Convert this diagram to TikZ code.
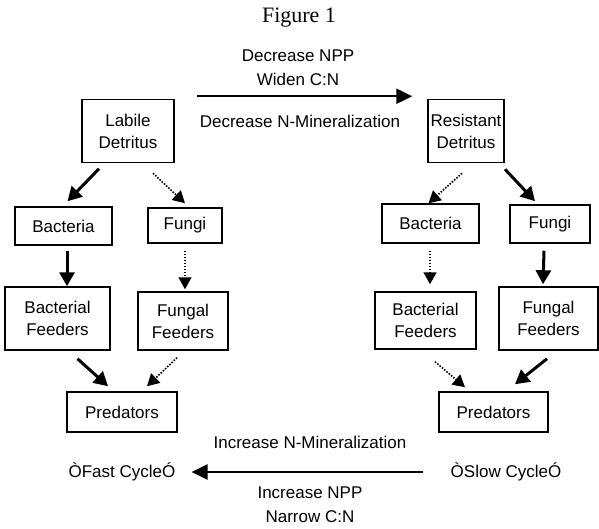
\documentclass[tikz,border=0pt]{standalone}
\usepackage{fontspec}
\setmainfont{Liberation Sans}
\newfontfamily\titlefont{Liberation Serif}
\usetikzlibrary{arrows.meta}

\begin{document}
\begin{tikzpicture}[x=1pt, y=-1pt,
    box/.style={rectangle, draw, line width=1.5pt, align=center, inner sep=0pt, font=\fontsize{17}{22}\selectfont},
    note/.style={align=center, inner sep=0pt, font=\fontsize{17}{24}\selectfont},
    strong/.style={line width=3pt, -{Triangle[length=14pt,width=15pt]}},
    weak/.style={line width=1.6pt, dash pattern=on 1.5pt off 1.5pt, -{Triangle[length=12pt,width=13pt]}},
    flow/.style={line width=2.5pt, -{Triangle[length=16pt,width=15pt]}}]
\useasboundingbox (0,0) rectangle (599,529);
\node (title) [font=\titlefont\fontsize{22}{24}\selectfont] at (299,18) {Figure 1};
\node (labile) [box, minimum width=92pt, minimum height=63pt] at (128,131) {Labile\\Detritus};
\node (resist) [box, minimum width=76pt, minimum height=63pt] at (466,131) {Resistant\\Detritus};
\node (bactL) [box, minimum width=97pt, minimum height=38pt] at (63.5,226) {Bacteria};
\node (fungL) [box, minimum width=74pt, minimum height=35pt] at (185,225.5) {Fungi};
\node (bactR) [box, minimum width=97pt, minimum height=39pt] at (430.5,223.5) {Bacteria};
\node (fungR) [box, minimum width=80pt, minimum height=38pt] at (550,224) {Fungi};
\node (bfeedL) [box, minimum width=105pt, minimum height=63pt] at (57.5,318.5) {Bacterial\\Feeders};
\node (ffeedL) [box, minimum width=90pt, minimum height=58pt] at (183,321) {Fungal\\Feeders};
\node (bfeedR) [box, minimum width=101pt, minimum height=57pt] at (425.5,320.5) {Bacterial\\Feeders};
\node (ffeedR) [box, minimum width=99pt, minimum height=63pt] at (548.5,318.5) {Fungal\\Feeders};
\node (predL) [box, minimum width=110pt, minimum height=40pt] at (122,412) {Predators};
\node (predR) [box, minimum width=109pt, minimum height=40pt] at (493.5,412) {Predators};
\node (decNPP) [note] at (298,68) {Decrease NPP\\Widen C:N};
\node (decMin) [note] at (300,121) {Decrease N-Mineralization};
\node (incMin) [note] at (310,442) {Increase N-Mineralization};
\node (incNPP) [note] at (310,505) {Increase NPP\\Narrow C:N};
\node (fast) [note] at (122,472) {ÒFast CycleÓ};
\node (slow) [note] at (506,472) {ÒSlow CycleÓ};
\draw [flow] ([xshift=22pt,yshift=2.5pt]labile.north east) -- ([xshift=-15pt,yshift=2.5pt]resist.north west);
\draw [flow] ([xshift=-28pt]slow.west) -- ([xshift=16pt]fast.east);
\draw [strong] ([xshift=-29pt,yshift=-5.5pt]labile.south) -- ([xshift=4pt,yshift=5pt]bactL.north);
\draw [weak] ([xshift=25pt,yshift=-10pt]labile.south) -- ([yshift=4pt]fungL.north);
\draw [weak] ([xshift=-4pt,yshift=-10pt]resist.south) -- ([xshift=-2pt]bactR.north);
\draw [strong] ([xshift=39pt,yshift=-6pt]resist.south) -- ([xshift=-15pt,yshift=3pt]fungR.north);
\draw [strong] ([xshift=3.5pt,yshift=-5pt]bactL.south) -- ([xshift=9.5pt]bfeedL.north);
\draw [weak] ([yshift=-7pt]fungL.south) -- ([xshift=2pt,yshift=2pt]ffeedL.north);
\draw [weak] ([xshift=-0.5pt,yshift=-7pt]bactR.south) -- ([xshift=4.5pt,yshift=7pt]bfeedR.north);
\draw [strong] ([xshift=-6pt,yshift=-7pt]fungR.south) -- ([xshift=-5.5pt,yshift=2pt]ffeedR.north);
\draw [strong] ([xshift=20pt,yshift=-8pt]bfeedL.south) -- ([xshift=-14pt,yshift=5pt]predL.north);
\draw [weak] ([xshift=-6pt,yshift=-7pt]ffeedL.south) -- ([xshift=25pt,yshift=5pt]predL.north);
\draw [weak] ([xshift=9.5pt,yshift=-12pt]bfeedR.south) -- ([xshift=-28.5pt,yshift=4pt]predR.north);
\draw [strong] ([xshift=-1.5pt,yshift=-8pt]ffeedR.south) -- ([xshift=21.5pt,yshift=7pt]predR.north);
\end{tikzpicture}
\end{document}
